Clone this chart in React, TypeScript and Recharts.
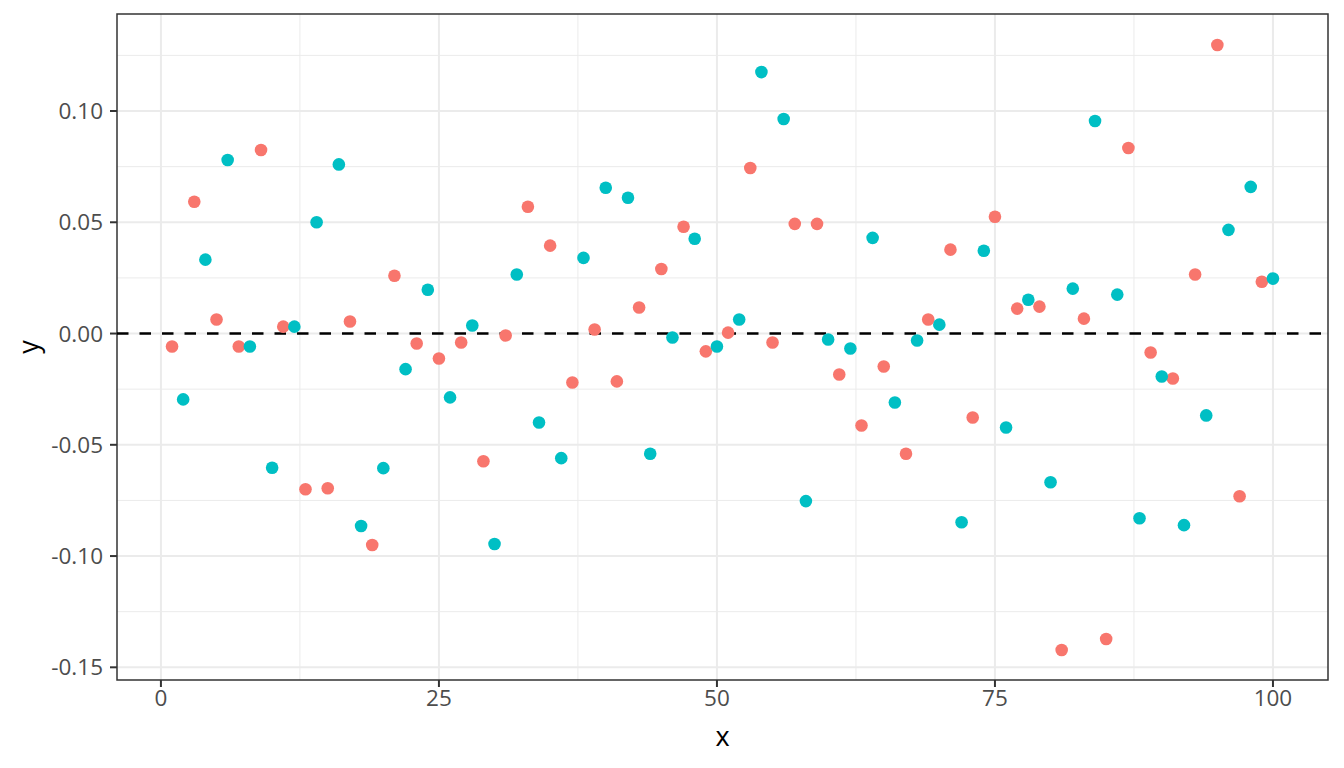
import React from "react";
import {
  ScatterChart,
  Scatter,
  XAxis,
  YAxis,
  CartesianGrid,
  ReferenceLine,
  ReferenceArea,
  Label,
} from "recharts";

// odd x values (1, 3, ..., 99) -> red group
const xRed = [
  1, 3, 5, 7, 9, 11, 13, 15, 17, 19, 21, 23, 25, 27, 29, 31, 33, 35, 37, 39,
  41, 43, 45, 47, 49, 51, 53, 55, 57, 59, 61, 63, 65, 67, 69, 71, 73, 75, 77, 79,
  81, 83, 85, 87, 89, 91, 93, 95, 97, 99,
];
const yRed = [
  -0.0058, 0.0592, 0.0063, -0.0058, 0.0825, 0.0031, -0.07, -0.0695, 0.0054, -0.095,
  0.026, -0.0045, -0.0112, -0.004, -0.0574, -0.0009, 0.057, 0.0395, -0.022, 0.0018,
  -0.0215, 0.0117, 0.029, 0.048, -0.008, 0.0004, 0.0744, -0.004, 0.0493, 0.0493,
  -0.0184, -0.0413, -0.0148, -0.054, 0.0063, 0.0377, -0.0377, 0.0525, 0.0112, 0.0121,
  -0.1422, 0.0067, -0.1373, 0.0834, -0.0085, -0.0202, 0.0265, 0.1297, -0.0731, 0.0233,
];

// even x values (2, 4, ..., 100) -> teal group
const xTeal = [
  2, 4, 6, 8, 10, 12, 14, 16, 18, 20, 22, 24, 26, 28, 30, 32, 34, 36, 38, 40,
  42, 44, 46, 48, 50, 52, 54, 56, 58, 60, 62, 64, 66, 68, 70, 72, 74, 76, 78, 80,
  82, 84, 86, 88, 90, 92, 94, 96, 98, 100,
];
const yTeal = [
  -0.0296, 0.0332, 0.078, -0.0058, -0.0603, 0.0031, 0.05, 0.076, -0.0865, -0.0605,
  -0.016, 0.0197, -0.0287, 0.0036, -0.0946, 0.0265, -0.04, -0.056, 0.034, 0.0655,
  0.061, -0.054, -0.0018, 0.0426, -0.0058, 0.0063, 0.1175, 0.0964, -0.0753, -0.0027,
  -0.0067, 0.043, -0.031, -0.0031, 0.004, -0.0848, 0.0372, -0.0422, 0.0152, -0.0668,
  0.0202, 0.0955, 0.0175, -0.083, -0.0193, -0.0861, -0.0368, 0.0466, 0.0659, 0.0247,
];

const xTicks = [0, 25, 50, 75, 100];
const xMinor = [12.5, 37.5, 62.5, 87.5];
const yTicks = [-0.15, -0.1, -0.05, 0, 0.05, 0.1];
const yMinor = [-0.125, -0.075, -0.025, 0.025, 0.075, 0.125];

const X_DOMAIN: [number, number] = [-3.95, 104.95];
const Y_DOMAIN: [number, number] = [-0.1557, 0.1436];

const FONT = "'Open Sans', 'Noto Sans', sans-serif";

const redData = xRed.map((x, i) => ({ x, y: yRed[i] }));
const tealData = xTeal.map((x, i) => ({ x, y: yTeal[i] }));

const dot = (fill: string) => (props: any) =>
  <circle cx={props.cx} cy={props.cy} r={6.3} fill={fill} />;

const tickStyle = { fill: "#4D4D4D", fontSize: 22.5, fontFamily: FONT };

export default function App() {
  return (
    <div
      style={{
        position: "absolute",
        left: 0,
        top: 0,
        width: 1344,
        height: 768,
        background: "#FFFFFF",
      }}
    >
      <ScatterChart
        width={1344}
        height={768}
        margin={{ top: 14, right: 16, bottom: 0, left: 0 }}
      >
        {/* minor grid */}
        <CartesianGrid
          stroke="#EBEBEB"
          strokeWidth={1}
          horizontalValues={yMinor}
          verticalValues={xMinor}
        />
        {/* major grid */}
        <CartesianGrid
          stroke="#EBEBEB"
          strokeWidth={2}
          horizontalValues={yTicks}
          verticalValues={xTicks}
        />
        <XAxis
          type="number"
          dataKey="x"
          domain={X_DOMAIN}
          allowDataOverflow
          ticks={xTicks}
          height={88}
          axisLine={false}
          tickLine={{ stroke: "#333333", strokeWidth: 2 }}
          tickSize={7}
          tick={tickStyle}
          tickMargin={3}
        >
          <Label
            value="x"
            position="insideBottom"
            offset={22}
            style={{ fill: "#000000", fontSize: 27, fontFamily: FONT }}
          />
        </XAxis>
        <YAxis
          type="number"
          dataKey="y"
          domain={Y_DOMAIN}
          allowDataOverflow
          ticks={yTicks}
          width={117}
          axisLine={false}
          tickLine={{ stroke: "#333333", strokeWidth: 2 }}
          tickSize={7}
          tick={tickStyle}
          tickMargin={7}
          tickFormatter={(v: number) => v.toFixed(2)}
        >
          <Label
            content={(props: any) => {
              const vb = props.viewBox || {};
              const cx = (vb.x || 0) + 27;
              const cy = (vb.y || 0) + (vb.height || 0) / 2;
              return (
                <text
                  x={cx}
                  y={cy}
                  transform={`rotate(-90, ${cx}, ${cy})`}
                  textAnchor="middle"
                  dominantBaseline="central"
                  fill="#000000"
                  fontSize={27}
                  fontFamily={FONT}
                >
                  y
                </text>
              );
            }}
          />
        </YAxis>
        <ReferenceLine
          y={0}
          stroke="#000000"
          strokeWidth={2.5}
          strokeDasharray="11.5 11"
        />
        <Scatter
          data={redData}
          fill="#F8766D"
          shape={dot("#F8766D")}
          isAnimationActive={false}
        />
        <Scatter
          data={tealData}
          fill="#00BFC4"
          shape={dot("#00BFC4")}
          isAnimationActive={false}
        />
        <ReferenceArea
          x1={X_DOMAIN[0]}
          x2={X_DOMAIN[1]}
          y1={Y_DOMAIN[0]}
          y2={Y_DOMAIN[1]}
          fill="none"
          fillOpacity={0}
          stroke="#333333"
          strokeWidth={1.5}
        />
      </ScatterChart>
    </div>
  );
}
